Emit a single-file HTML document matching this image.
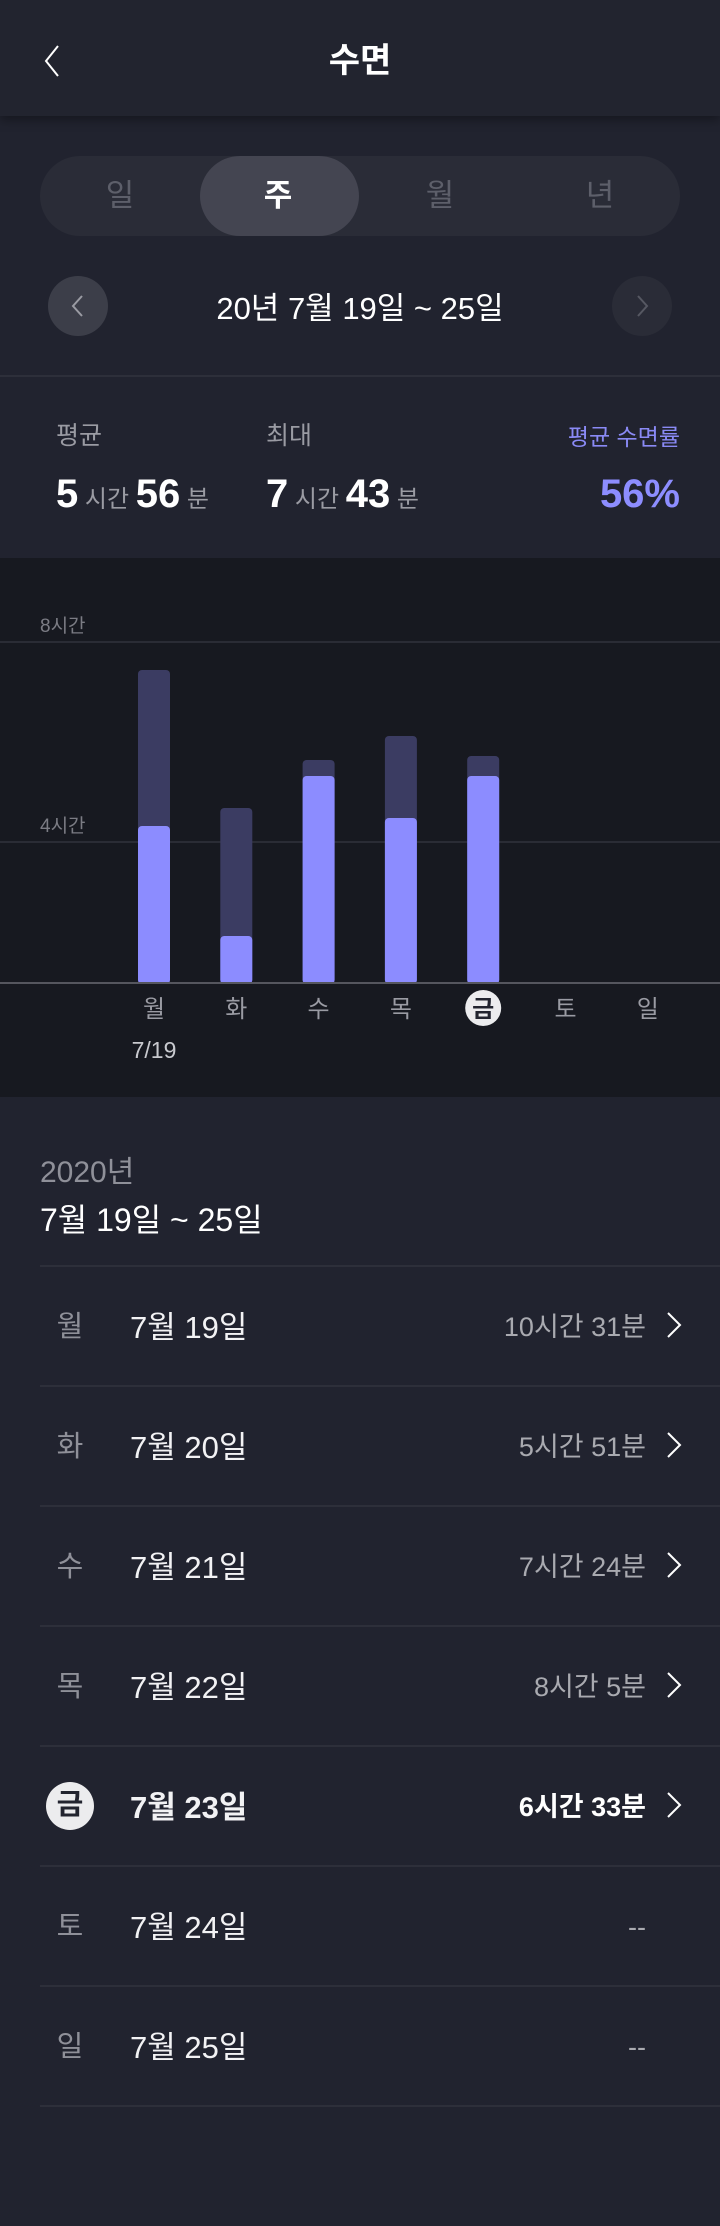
<!DOCTYPE html>
<html lang="ko"><head><meta charset="utf-8">
<style>
*{margin:0;padding:0;box-sizing:border-box}
body{width:720px;height:2226px;background:#21232f;font-family:"Liberation Sans","Noto Sans CJK KR",sans-serif;color:#fff;position:relative;overflow:hidden}
.abs{position:absolute}
.t{position:absolute;white-space:nowrap;line-height:1}
</style></head><body>
<div class="abs" style="left:0;top:0;width:720px;height:116px;background:#22242f;box-shadow:0 4px 10px rgba(0,0,0,0.35)">
  <svg class="abs" style="left:42px;top:44px" width="24" height="34"><polyline points="16,2 4,17 16,32" fill="none" stroke="#fff" stroke-width="2"/></svg>
  <div class="t" style="left:0;width:720px;text-align:center;top:44px;font-size:34px;font-weight:bold">수면</div>
</div>
<div class="abs" style="left:40px;top:156px;width:640px;height:80px;border-radius:40px;background:#2a2c37">
  <div class="abs" style="left:160px;top:0;width:159px;height:80px;border-radius:40px;background:#444551"></div>
  <div class="t" style="left:40px;width:80px;text-align:center;top:24px;font-size:31px;color:#5d5f6a">일</div>
  <div class="t" style="left:198px;width:80px;text-align:center;top:24px;font-size:31px;font-weight:bold;color:#fff">주</div>
  <div class="t" style="left:360px;width:80px;text-align:center;top:24px;font-size:31px;color:#5d5f6a">월</div>
  <div class="t" style="left:520px;width:80px;text-align:center;top:24px;font-size:31px;color:#5d5f6a">년</div>
</div>
<div class="abs" style="left:48px;top:276px;width:60px;height:60px;border-radius:30px;background:#3c3e49">
  <svg class="abs" style="left:21px;top:18px" width="16" height="24"><polyline points="13,2 4,12 13,22" fill="none" stroke="#9a9ba3" stroke-width="2"/></svg>
</div>
<div class="t" style="left:0;width:720px;text-align:center;top:293px;font-size:31px;color:#fff">20년 7월 19일 ~ 25일</div>
<div class="abs" style="left:612px;top:276px;width:60px;height:60px;border-radius:30px;background:#2a2c37">
  <svg class="abs" style="left:23px;top:18px" width="16" height="24"><polyline points="3,2 12,12 3,22" fill="none" stroke="#565862" stroke-width="2"/></svg>
</div>
<div class="abs" style="left:0;top:375px;width:720px;height:2px;background:#2d2f3a"></div>

<div class="t" style="left:56px;top:424px;font-size:25px;color:#9a9ba3">평균</div>
<div class="t" style="left:56px;top:474px;font-size:40px;font-weight:bold">5<span style="font-size:24px;font-weight:normal;color:#9a9ba3"> 시간 </span> 56<span style="font-size:24px;font-weight:normal;color:#9a9ba3"> 분</span></div>
<div class="t" style="left:266px;top:424px;font-size:25px;color:#9a9ba3">최대</div>
<div class="t" style="left:266px;top:474px;font-size:40px;font-weight:bold">7<span style="font-size:24px;font-weight:normal;color:#9a9ba3"> 시간 </span> 43<span style="font-size:24px;font-weight:normal;color:#9a9ba3"> 분</span></div>
<div class="t" style="right:40px;top:426px;font-size:23px;color:#8a8af5">평균 수면률</div>
<div class="t" style="right:40px;top:474px;font-size:40px;font-weight:bold;color:#8d8dff">56%</div>

<svg class="abs" id="chart" style="left:0;top:558px" width="720" height="540"></svg>

<div class="t" style="left:40px;top:1158px;font-size:30px;color:#8f9099">2020년</div>
<div class="t" style="left:40px;top:1204px;font-size:32px;color:#fff">7월 19일 ~ 25일</div>
<div id="list"></div>

<script>
const days = ['월','화','수','목','금','토','일'];
const totalHours = [7.44, 4.68, 5.64, 6.12, 5.72, null, null];
const lightHours = [4.32, 2.12, 5.32, 4.48, 5.32, null, null];
const tickValues = [8, 4];
const tickLabels = ['8시간', '4시간'];
const selectedIndex = 4;

const NS = 'http://www.w3.org/2000/svg';
const svg = document.getElementById('chart');
function yScale(v){ return 484 - v*50; }
function xScale(i){ return 154 + i*82.3; }
const baseY = 424;
function mk(tag, attrs){ const e=document.createElementNS(NS,tag); for(const k in attrs) e.setAttribute(k,attrs[k]); svg.appendChild(e); return e; }

const bg = mk('rect',{x:0,y:0,width:720,height:539,fill:'#171920'});



tickValues.forEach((v,i)=>{
  const g = mk('line',{x1:0,x2:720,y1:yScale(v),y2:yScale(v),stroke:'#2a2c35','stroke-width':2});
  
  
  const t = mk('text',{x:40,y:yScale(v)-10,fill:'#7b7c84','font-size':19});
  t.textContent = tickLabels[i];
  
  
});

totalHours.forEach((v,i)=>{
  if(v==null) return;
  const x = xScale(i)-16;
  const r1 = mk('rect',{x:x,y:yScale(v),width:32,height:baseY-yScale(v)+2,rx:4,fill:'#3b3c62'});
  
  
  const lv = lightHours[i];
  const r2 = mk('rect',{x:x,y:yScale(lv),width:32,height:baseY-yScale(lv)+2,rx:4,fill:'#8c8cff'});
  
  
});
const base = mk('rect',{x:0,y:baseY,width:720,height:2,fill:'#55565e'});



days.forEach((d,i)=>{
  if(i===selectedIndex){
    const c = mk('ellipse',{cx:xScale(i),cy:450,rx:18,ry:18,fill:'#ececee'});
    
    
  }
  const t = mk('text',{x:xScale(i),y:459,'text-anchor':'middle','font-size':24,fill:i===selectedIndex?'#22242f':'#9a9ba3','font-weight':i===selectedIndex?'bold':'normal'});
  t.textContent = d;
  
  
});
const dl = mk('text',{x:xScale(0),y:500,'text-anchor':'middle','font-size':23,fill:'#c8c9ce'});
dl.textContent = '7/19';



const listDates = ['7월 19일','7월 20일','7월 21일','7월 22일','7월 23일','7월 24일','7월 25일'];
const listValues = ['10시간 31분','5시간 51분','7시간 24분','8시간 5분','6시간 33분','--','--'];
const list = document.getElementById('list');
let html = '';
html += '<div class="abs" style="left:40px;top:1265px;width:680px;height:2px;background:#2d2f3a"></div>';
for(let i=0;i<7;i++){
  const top = 1266 + i*120;
  const sel = i===selectedIndex;
  html += '<div class="abs" style="left:0;top:'+top+'px;width:720px;height:120px">';
  if(sel) html += '<div class="abs" style="left:46px;top:36px;width:48px;height:48px;border-radius:24px;background:#ececee"></div>';
  html += '<div class="t" style="left:40px;width:60px;text-align:center;top:'+(sel?45:47)+'px;font-size:29px;'+(sel?'color:#22242f;font-weight:bold':'color:#8f9099')+'">'+days[i]+'</div>';
  html += '<div class="t" style="left:130px;top:46px;font-size:31px;color:#f2f2f4;'+(sel?'font-weight:bold':'')+'">'+listDates[i]+'</div>';
  html += '<div class="t" style="right:74px;top:48px;font-size:27px;'+(sel?'color:#fff;font-weight:bold':'color:#a9aab0')+'">'+listValues[i]+'</div>';
  if(listValues[i]!=='--') html += '<svg class="abs" style="left:664px;top:44px" width="20" height="30"><polyline points="4,3 16,15 4,27" fill="none" stroke="#fff" stroke-width="2"/></svg>';
  html += '</div>';
  html += '<div class="abs" style="left:40px;top:'+(top+119)+'px;width:680px;height:2px;background:#2d2f3a"></div>';
}
list.innerHTML = html;
</script>
</body></html>
